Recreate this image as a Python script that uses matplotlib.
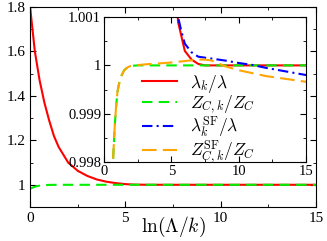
import matplotlib
matplotlib.use("Agg")
import matplotlib.pyplot as plt
from matplotlib.ticker import MultipleLocator

plt.rcParams.update({
    "font.family": "Liberation Serif",
    "mathtext.fontset": "cm",
    "font.size": 9,
})

# lambda_k / lambda
x_lam = [0, 0.25, 0.5, 0.75, 1, 1.25, 1.5, 2, 2.5, 3, 3.5, 4, 4.5, 5, 5.5, 5.75,
         6, 6.5, 7, 7.5, 8, 15]
y_lam = [1.8, 1.60, 1.47, 1.37, 1.29, 1.22, 1.17, 1.10, 1.063, 1.04, 1.024, 1.014,
         1.0075, 1.003, 1.0009, 1.0006, 1.0003, 1.00012, 1.00003, 1.0, 1.0, 1.0]

# Z_{C,k} / Z_C
x_z = [0, 0.15, 0.3, 0.45, 0.6, 0.7, 0.8, 0.9, 1.0, 1.1, 1.25, 1.5, 1.75, 2.0,
       2.5, 15]
y_z = [0.982, 0.988, 0.9925, 0.9955, 0.9975, 0.9982, 0.99875, 0.99915, 0.99945,
       0.9996, 0.99976, 0.9999, 0.99996, 0.99999, 1.0, 1.0]

# lambda_k^SF / lambda
x_lsf = [5, 5.5, 5.75, 6, 6.5, 7, 7.5, 8, 9, 10, 11, 12, 13, 14, 15]
y_lsf = [1.0016, 1.001, 1.0007, 1.00045, 1.00027, 1.00018, 1.00016, 1.00014,
         1.0001, 1.00005, 1.00001, 0.99995, 0.9999, 0.99985, 0.9998]

# Z_{C,k}^SF / Z_C
x_zsf = [0, 0.15, 0.3, 0.45, 0.6, 0.7, 0.8, 0.9, 1.0, 1.1, 1.25, 1.5, 1.75, 2.0,
         3, 4, 5, 6, 7, 7.5, 8, 8.5, 9, 10, 11, 12, 13, 14, 15]
y_zsf = [0.982, 0.988, 0.9925, 0.9955, 0.9975, 0.9982, 0.99875, 0.99915, 0.99945,
         0.9996, 0.99976, 0.9999, 0.99996, 0.99999, 1.00002, 1.00004, 1.00006,
         1.00009, 1.00012, 1.00012, 1.0001, 1.00004, 0.99998, 0.9999, 0.99984,
         0.99978, 0.99974, 0.9997, 0.99966]

fig = plt.figure(figsize=(3.27, 2.41), dpi=100)

ax = fig.add_axes([0.092, 0.141, 0.874, 0.830])
ax.plot(x_lam, y_lam, color="red", lw=1.5)
ax.plot(x_z, y_z, color="#00ee00", lw=1.5, dashes=(5, 3))
ax.set_xlim(0, 15)
ax.set_ylim(0.9, 1.8)
ax.xaxis.set_major_locator(MultipleLocator(5))
ax.xaxis.set_minor_locator(MultipleLocator(2.5))
ax.yaxis.set_minor_locator(MultipleLocator(0.1))
ax.set_yticks([1, 1.2, 1.4, 1.6, 1.8])
ax.set_yticklabels(["1", "1.2", "1.4", "1.6", "1.8"])
ax.tick_params(which="both", direction="in", top=True, right=True, labelsize=11)
ax.tick_params(which="major", length=4)
ax.tick_params(which="minor", length=2)
ax.set_xlabel(r"$\ln(\Lambda/k)$", fontsize=14, labelpad=-7)

ins = fig.add_axes([0.318, 0.328, 0.618, 0.601])
ins.plot(x_lam, y_lam, color="red", lw=1.5, label=r"$\lambda_k/\lambda$")
ins.plot(x_z, y_z, color="#00ee00", lw=1.5, dashes=(5, 3), label=r"$Z_{C,k}/Z_C$")
ins.plot(x_lsf, y_lsf, color="blue", lw=1.5, dashes=(5, 2, 1, 2),
         label=r"$\lambda_k^{\rm SF}/\lambda$")
ins.plot(x_zsf, y_zsf, color="orange", lw=1.5, dashes=(7, 3),
         label=r"$Z_{C,k}^{\rm SF}/Z_C$")
ins.set_xlim(0, 15)
ins.set_ylim(0.998, 1.001)
ins.xaxis.set_major_locator(MultipleLocator(5))
ins.xaxis.set_minor_locator(MultipleLocator(2.5))
ins.set_yticks([0.998, 0.999, 1.0, 1.001])
ins.set_yticklabels(["0.998", "0.999", "1", "1.001"])
ins.yaxis.set_minor_locator(MultipleLocator(0.0005))
ins.tick_params(which="both", direction="in", top=True, right=True, labelsize=10.5, pad=2)
ins.tick_params(which="major", length=4)
ins.tick_params(which="minor", length=2)
ins.legend(loc="lower left", bbox_to_anchor=(0.19, -0.025), frameon=False,
           fontsize=12.5, handlelength=2.0, labelspacing=-0.08, handletextpad=0.75,
           borderpad=0, borderaxespad=0)

fig.savefig("out.png", dpi=100)
